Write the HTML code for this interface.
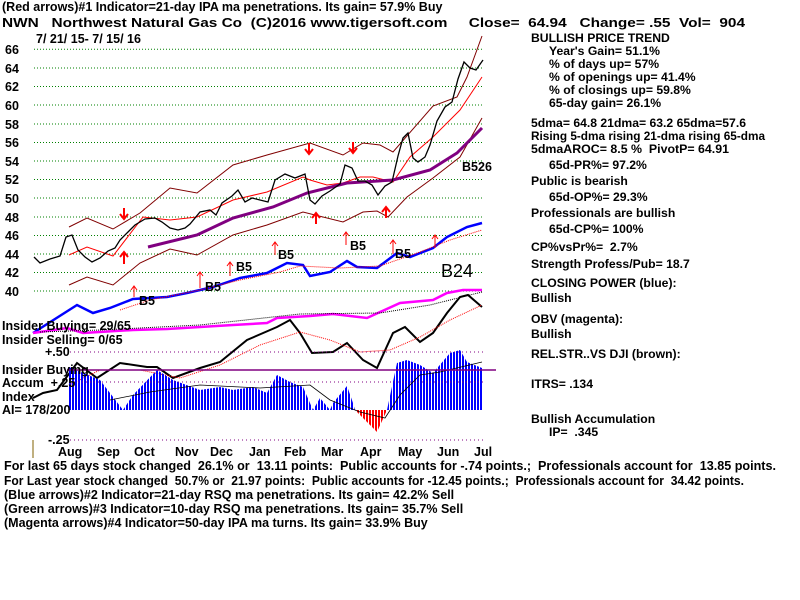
<!DOCTYPE html>
<html><head><meta charset="utf-8"><style>
body{margin:0;background:#fff;}
svg{display:block;font-family:"Liberation Sans",sans-serif;font-weight:bold;}
text{white-space:pre;}
</style></head><body>
<svg width="800" height="600" viewBox="0 0 800 600" xmlns="http://www.w3.org/2000/svg" xml:space="preserve">
<defs>
<pattern id="pb" width="3" height="10" patternUnits="userSpaceOnUse"><rect width="2" height="10" fill="#0000ff"/></pattern>
<pattern id="pr" width="3" height="10" patternUnits="userSpaceOnUse"><rect width="2" height="10" fill="#ff0000"/></pattern>
</defs>
<rect width="800" height="600" fill="#fff"/>
<g font-size="12.5" fill="#000">
<text x="2" y="11">(Red arrows)#1 Indicator=21-day IPA ma penetrations. Its gain= 57.9% Buy</text>
<text x="2" y="27" textLength="743" lengthAdjust="spacingAndGlyphs">NWN   Northwest Natural Gas Co  (C)2016 www.tigersoft.com     Close=  64.94   Change= .55  Vol=  904</text>
<text x="36" y="43">7/ 21/ 15- 7/ 15/ 16</text>
</g>
<g stroke="#008000" stroke-dasharray="1,2" stroke-width="1">
<line x1="34" y1="49.3" x2="483" y2="49.3"/><line x1="34" y1="68" x2="483" y2="68"/><line x1="34" y1="86.5" x2="483" y2="86.5"/><line x1="34" y1="105" x2="483" y2="105"/><line x1="34" y1="124" x2="483" y2="124"/><line x1="34" y1="142.5" x2="483" y2="142.5"/><line x1="34" y1="161" x2="483" y2="161"/><line x1="34" y1="179.5" x2="483" y2="179.5"/><line x1="34" y1="198" x2="483" y2="198"/><line x1="34" y1="217" x2="483" y2="217"/><line x1="34" y1="235.5" x2="483" y2="235.5"/><line x1="34" y1="254" x2="483" y2="254"/><line x1="34" y1="272.5" x2="483" y2="272.5"/><line x1="34" y1="291" x2="483" y2="291"/>
</g>
<g font-size="12.5">
<text x="5" y="54">66</text><text x="5" y="73">64</text><text x="5" y="91">62</text><text x="5" y="110">60</text><text x="5" y="129">58</text><text x="5" y="147">56</text><text x="5" y="166">54</text><text x="5" y="184">52</text><text x="5" y="203">50</text><text x="5" y="222">48</text><text x="5" y="240">46</text><text x="5" y="259">44</text><text x="5" y="277">42</text><text x="5" y="296">40</text>
</g>
<g fill="none">
<polyline stroke="#800000" points="69,227 87,218 113,229 140,213 170,188 197,193 233,165 267,155 310,143 343,155 363,143 380,145 393,152 433,106 457,97 467,77 482,36"/>
<polyline stroke="#800000" points="69,285 87,277 113,285 140,263 170,249 197,255 233,235 267,225 303,212 343,222 363,212 377,211 388,217 407,197 433,178 460,157 482,118"/>
<polyline stroke="#ff0000" points="69,255 87,247 113,256 143,217 170,220 197,217 233,200 267,192 303,177 310,180 327,185 343,183 360,177 373,177 393,182 410,157 433,137 460,110 482,77"/>
<polyline stroke="#800080" stroke-width="3" points="148,247 197,235 233,218 273,207 307,193 347,183 393,180 430,170 457,153 482,128"/>
<polyline stroke="#000" stroke-width="1.3" points="34,257 40,263 50,259 60,256 66,237 72,235 78,250 85,257 92,262 100,258 108,251 115,248 120,240 128,232 135,225 145,219 155,218 162,222 170,228 178,230 185,228 190,224 200,212 210,210 216,215 222,203 232,196 238,190 245,202 252,198 260,200 268,202 275,180 285,174 295,178 305,174 310,200 315,204 322,196 330,191 340,184 345,165 352,168 358,181 365,181 372,185 378,195 385,186 392,182 398,156 403,138 408,133 413,158 418,162 425,157 430,145 437,121 445,107 452,102 458,79 464,62 470,68 476,70 483,60"/>
<polyline stroke="#0000ff" stroke-width="2.5" points="33,333 77,305 93,313 110,308 133,299 167,297 187,293 213,287 240,278 267,273 287,263 303,265 310,276 330,272 347,261 357,267 377,268 397,253 410,257 433,248 447,237 467,227 482,223"/>
<polyline stroke="#ff0000" stroke-dasharray="1,1" points="120,310 150,300 200,290 240,280 280,272 300,266 340,268 380,266 420,252 450,240 482,230"/>
<polyline stroke="#ff00ff" stroke-width="2.5" points="33,333 67,328 83,333 133,330 167,329 200,327 233,325 267,323 277,318 310,316 333,314 367,318 400,303 433,300 447,293 463,290 482,290"/>
<polyline stroke="#000" stroke-dasharray="1,1" points="40,332 100,330 200,325 300,314 380,313 430,305 482,292"/>
<polyline stroke="#000" stroke-width="2" points="33,398 43,393 57,390 77,363 97,378 120,363 147,367 157,367 173,378 200,368 220,362 247,340 277,327 290,320 300,333 312,353 333,352 347,343 363,360 377,368 393,333 405,327 420,342 433,333 447,313 460,297 468,295 482,307"/>
<polyline stroke="#ff0000" stroke-dasharray="1,1" points="69,385 100,370 140,370 180,378 220,365 260,345 300,332 330,340 360,352 390,350 420,337 450,320 482,305"/>
</g>
<polygon fill="url(#pb)" points="69,410 69,367 100,380 110,393 123,410 133,395 157,370 173,380 200,390 220,387 233,390 253,387 267,393 277,375 290,382 303,387 313,410 320,398 330,410 333,403 347,386 353,403 355,410"/>
<polygon fill="url(#pr)" points="355,410 377,432 387,410"/>
<polygon fill="url(#pb)" points="387,410 397,363 407,360 420,365 433,373 450,353 460,350 467,362 482,368 482,410"/>
<polyline fill="none" stroke="#000" stroke-width="0.8" points="110,400 150,392 200,385 260,388 310,385 330,400 360,412 385,418 400,395 420,375 440,372 482,362"/>
<line x1="67" y1="370" x2="496" y2="370" stroke="#800080" stroke-width="1.5"/>
<g stroke="#800080" stroke-dasharray="1,3"><line x1="70" y1="352" x2="483" y2="352"/><line x1="70" y1="382" x2="483" y2="382"/><line x1="70" y1="440" x2="483" y2="440"/></g>
<g font-size="12.5">
<text x="2" y="330">Insider Buying= 29/65</text><text x="2" y="344">Insider Selling= 0/65</text>
<text x="45" y="356">+.50</text><text x="2" y="374">Insider Buying</text><text x="2" y="387">Accum  +.25</text><text x="2" y="401">Index</text><text x="2" y="414">AI= 178/200</text>
<text x="48" y="444">-.25</text>
<text x="58" y="456">Aug</text><text x="97" y="456">Sep</text><text x="134" y="456">Oct</text><text x="175" y="456">Nov</text><text x="210" y="456">Dec</text><text x="249" y="456">Jan</text><text x="284" y="456">Feb</text><text x="321" y="456">Mar</text><text x="360" y="456">Apr</text><text x="398" y="456">May</text><text x="437" y="456">Jun</text><text x="474" y="456">Jul</text>
<text x="4" y="470" textLength="772" lengthAdjust="spacingAndGlyphs">For last 65 days stock changed  26.1% or  13.11 points:  Public accounts for -.74 points.;  Professionals account for  13.85 points.</text>
<text x="4" y="485" textLength="740" lengthAdjust="spacingAndGlyphs">For Last year stock changed  50.7% or  21.97 points:  Public accounts for -12.45 points.;  Professionals account for  34.42 points.</text>
<text x="4" y="499">(Blue arrows)#2 Indicator=21-day RSQ ma penetrations. Its gain= 42.2% Sell</text>
<text x="4" y="513">(Green arrows)#3 Indicator=10-day RSQ ma penetrations. Its gain= 35.7% Sell</text>
<text x="4" y="527">(Magenta arrows)#4 Indicator=50-day IPA ma turns. Its gain= 33.9% Buy</text>
<text x="236" y="271">B5</text><text x="278" y="259">B5</text><text x="205" y="291">B5</text><text x="139" y="305">B5</text><text x="350" y="250">B5</text><text x="395" y="258">B5</text><text x="462" y="171">B5</text><text x="478" y="171">26</text>
</g>
<text x="441" y="277" font-size="18" font-weight="normal">B24</text>
<line x1="33" y1="440" x2="33" y2="458" stroke="#806000"/>
<g stroke="#ff0000" stroke-width="2" fill="none">
<path d="M124,264V253M120,257L124,252L128,257"/><path d="M124,208V218M120,214L124,219L128,214"/>
<path d="M316,224V214M312,218L316,213L320,218"/><path d="M386,218V208M382,212L386,207L390,212"/>
<path d="M309,143V153M305,149L309,154L313,149"/><path d="M353,142V152M349,148L353,153L357,148"/>
</g>
<g stroke="#ff0000" stroke-width="1" fill="none">
<path d="M134,297V287M131,290L134,286L137,290"/><path d="M200,288V273M197,276L200,272L203,276"/><path d="M230,276V262M227,266L230,262L233,266"/>
<path d="M275,255V242M272,246L275,242L278,246"/><path d="M346,245V232M343,236L346,232L349,236"/><path d="M393,254V240M390,244L393,240L396,244"/><path d="M435,248V235M432,239L435,235L438,239"/>
</g>
<g font-size="12.2">
<text x="531" y="42">BULLISH PRICE TREND</text>
<text x="549" y="55">Year's Gain= 51.1%</text><text x="549" y="68">% of days up= 57%</text><text x="549" y="81">% of openings up= 41.4%</text><text x="549" y="94">% of closings up= 59.8%</text><text x="549" y="107">65-day gain= 26.1%</text>
<text x="531" y="127" textLength="215" lengthAdjust="spacingAndGlyphs">5dma= 64.8 21dma= 63.2 65dma=57.6</text>
<text x="531" y="140" textLength="234" lengthAdjust="spacingAndGlyphs">Rising 5-dma rising 21-dma rising 65-dma</text>
<text x="531" y="153" textLength="198" lengthAdjust="spacingAndGlyphs">5dmaAROC= 8.5 %  PivotP= 64.91</text>
<text x="549" y="169">65d-PR%= 97.2%</text>
<text x="531" y="185">Public is bearish</text><text x="549" y="201">65d-OP%= 29.3%</text>
<text x="531" y="217">Professionals are bullish</text><text x="549" y="233">65d-CP%= 100%</text>
<text x="531" y="251">CP%vsPr%=  2.7%</text>
<text x="531" y="268">Strength Profess/Pub= 18.7</text>
<text x="531" y="287">CLOSING POWER (blue):</text><text x="531" y="302">Bullish</text>
<text x="531" y="323">OBV (magenta):</text><text x="531" y="338">Bullish</text>
<text x="531" y="358">REL.STR..VS DJI (brown):</text>
<text x="531" y="388">ITRS= .134</text>
<text x="531" y="423">Bullish Accumulation</text><text x="549" y="436">IP=  .345</text>
</g>
</svg>
</body></html>
